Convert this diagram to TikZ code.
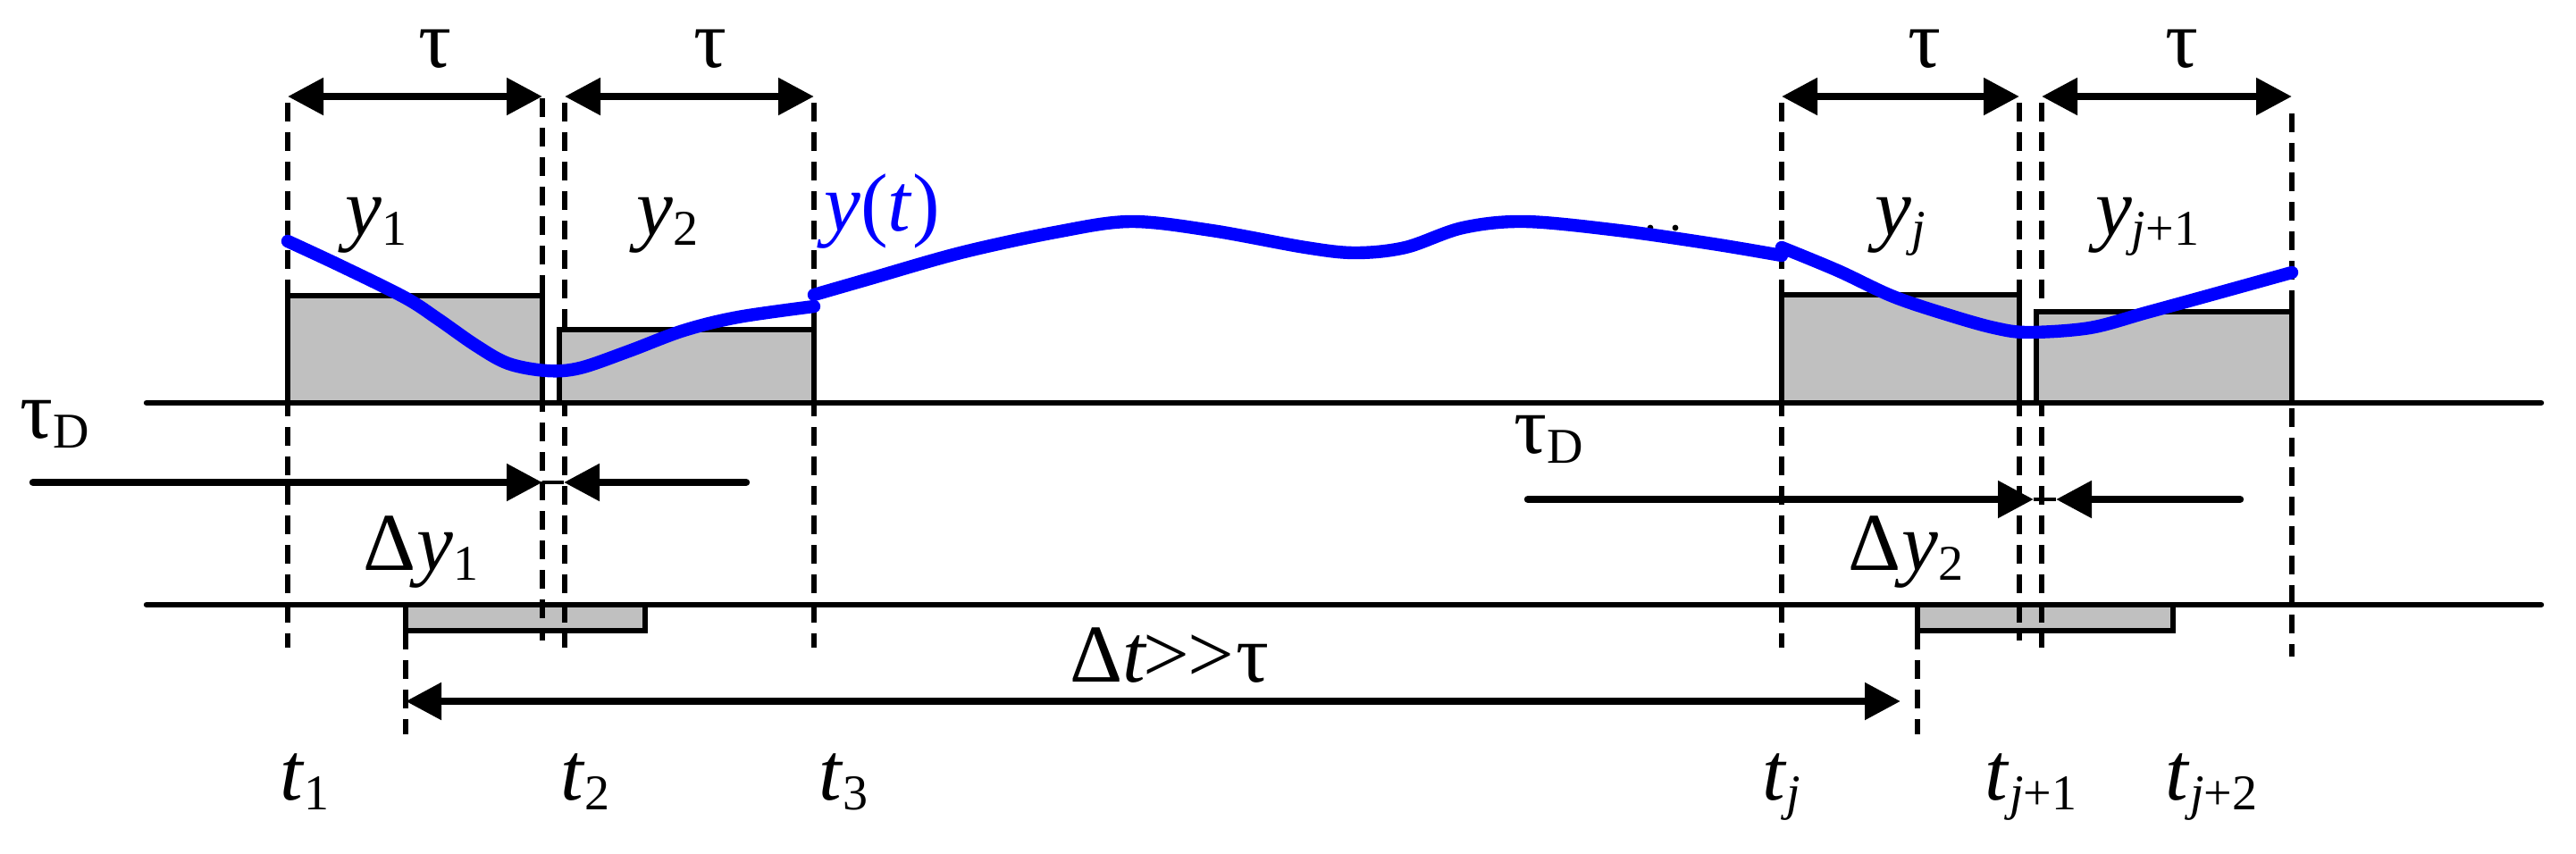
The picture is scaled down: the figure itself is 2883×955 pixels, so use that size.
\documentclass[tikz,border=0pt]{standalone}
\usepackage{fontspec}
\setmainfont{Liberation Serif}
\usetikzlibrary{arrows.meta}
\definecolor{boxgray}{RGB}{192,192,192}
\definecolor{curveblue}{RGB}{0,0,255}
\newcommand\sbs[1]{\raisebox{-0.12em}{\fontsize{14}{14}\selectfont #1}}
\begin{document}
\begin{tikzpicture}[x=0.25pt,y=-0.25pt,
  dashln/.style={line width=1.6pt, dash pattern=on 5.25pt off 3pt},
  axisln/.style={line width=1.6pt, line cap=round},
  barbox/.style={draw, line width=1.5pt, fill=boxgray},
  dimarrow/.style={line width=2.1pt, {Triangle[length=10pt,width=10pt]}-{Triangle[length=10pt,width=10pt]}},
  onearrow/.style={line width=2.1pt, line cap=round, -{Triangle[length=10pt,width=10pt]}},
  thinlink/.style={line width=1pt},
  curve/.style={line width=3.6pt, color=curveblue, line cap=round, line join=round},
  lab/.style={inner sep=0pt, anchor=base, font=\fontsize{23}{27}\selectfont},
]
\useasboundingbox (0,0) rectangle (2883,955);

% ---- key coordinates ----
\foreach \n/\x/\ya/\yb in {d1/322/115/725, d2/607/110/717, d3/632/115/725, d4/911/115/725,
    dj/1994/115/725, dja/2260/115/717, djb/2285/115/725, djc/2565/127/735,
    dy1/454/706/822, dy2/2146/706/822}{
  \coordinate (\n t) at (\x,\ya);
  \coordinate (\n b) at (\x,\yb);
}

% ---- small difference boxes ----
\draw[barbox] (454,677) rectangle (722,706);
\draw[barbox] (2146,677) rectangle (2432,706);

% ---- dashed guide lines ----
\foreach \n in {d1,d2,d3,d4,dj,dja,djb,djc,dy1,dy2}{
  \draw[dashln] (\n t) -- (\n b);
}

% ---- sample bars ----
\draw[barbox] (322,331) rectangle (607,451);
\draw[barbox] (626,369) rectangle (911,451);
\draw[barbox] (1994,330) rectangle (2260,451);
\draw[barbox] (2279,349) rectangle (2565,451);

% ---- axes ----
\coordinate (a1l) at (164,451); \coordinate (a1r) at (2844,451);
\coordinate (a2l) at (164,677); \coordinate (a2r) at (2844,677);
\draw[axisln] (a1l) -- (a1r);
\draw[axisln] (a2l) -- (a2r);

% ---- tau arrows ----
\coordinate (ta1) at (322,108); \coordinate (ta2) at (607,108);
\coordinate (ta3) at (632,108); \coordinate (ta4) at (911,108);
\coordinate (ta5) at (1994,108); \coordinate (ta6) at (2260,108);
\coordinate (ta7) at (2285,108); \coordinate (ta8) at (2565,108);
\draw[dimarrow] (ta1) -- (ta2);
\draw[dimarrow] (ta3) -- (ta4);
\draw[dimarrow] (ta5) -- (ta6);
\draw[dimarrow] (ta7) -- (ta8);

% ---- tau_D arrows ----
\coordinate (da1) at (37,540);  \coordinate (da2) at (607,540);
\coordinate (da3) at (835,540); \coordinate (da4) at (631,540);
\draw[onearrow] (da1) -- (da2);
\draw[onearrow] (da3) -- (da4);
\draw[thinlink] (da2) -- (da4);
\coordinate (db1) at (1710,559); \coordinate (db2) at (2276,559);
\coordinate (db3) at (2507,559); \coordinate (db4) at (2301,559);
\draw[onearrow] (db1) -- (db2);
\draw[onearrow] (db3) -- (db4);
\draw[thinlink] (db2) -- (db4);

% ---- Delta t arrow ----
\coordinate (dt1) at (454,785); \coordinate (dt2) at (2127,785);
\draw[dimarrow] (dt1) -- (dt2);

% ---- hidden ellipsis under curve ----
\fill (1847,255) circle (3.4);
\fill (1875,255) circle (3.4);

% ---- signal curve y(t) ----
\draw[curve] plot[smooth, tension=0.55] coordinates {(322,270) (380,297) (453,333) (490,357) (533,387) (569,407) (612,415) (649,412) (704,393) (765,370) (826,355) (911,343)};
\draw[curve] plot[smooth, tension=0.55] coordinates {(911,330) (970,313) (1075,283) (1181,260) (1265,248) (1356,258) (1461,277) (1517,283) (1573,277) (1637,255) (1707,248) (1812,258) (1917,273) (1994,286)};
\draw[curve] plot[smooth, tension=0.55] coordinates {(1994,277) (2057,303) (2119,332) (2182,353) (2232,367) (2270,372) (2339,367) (2402,350) (2464,333) (2565,305)};

% ---- labels ----
\node[lab] (tau1) at (487,75) {τ};
\node[lab] (tau2) at (795,75) {τ};
\node[lab] (tau3) at (2154,75) {τ};
\node[lab] (tau4) at (2442,75) {τ};
\node[lab] (y1) at (421,263) {\textit{y}\sbs{1}};
\node[lab] (y2) at (747,263) {\textit{y}\sbs{2}};
\node[lab] (yj) at (2127,263) {\textit{y}\sbs{\textit{j}}};
\node[lab] (yj1) at (2403,263) {\textit{y}\sbs{\textit{j}+1}};
\node[lab, text=curveblue] (yt) at (987,258) {\textit{y}(\textit{t})};
\node[lab] (tauD1) at (61,490) {τ\sbs{D}};
\node[lab] (tauD2) at (1733,507) {τ\sbs{D}};
\node[lab] (dy1l) at (471,638) {Δ\textit{y}\sbs{1}};
\node[lab] (dy2l) at (2133,638) {Δ\textit{y}\sbs{2}};
\node[lab] (dtl) at (1309,763) {Δ\textit{t}\kern-0.05em>\kern-0.02em>\kern0.02emτ};
\node[lab] (t1) at (341,895) {\textit{t}\sbs{1}};
\node[lab] (t2) at (655,895) {\textit{t}\sbs{2}};
\node[lab] (t3) at (944,895) {\textit{t}\sbs{3}};
\node[lab] (tj) at (1994,895) {\textit{t}\sbs{\textit{j}}};
\node[lab] (tj1) at (2273,895) {\textit{t}\sbs{\textit{j}+1}};
\node[lab] (tj2) at (2475,895) {\textit{t}\sbs{\textit{j}+2}};
\end{tikzpicture}
\end{document}
